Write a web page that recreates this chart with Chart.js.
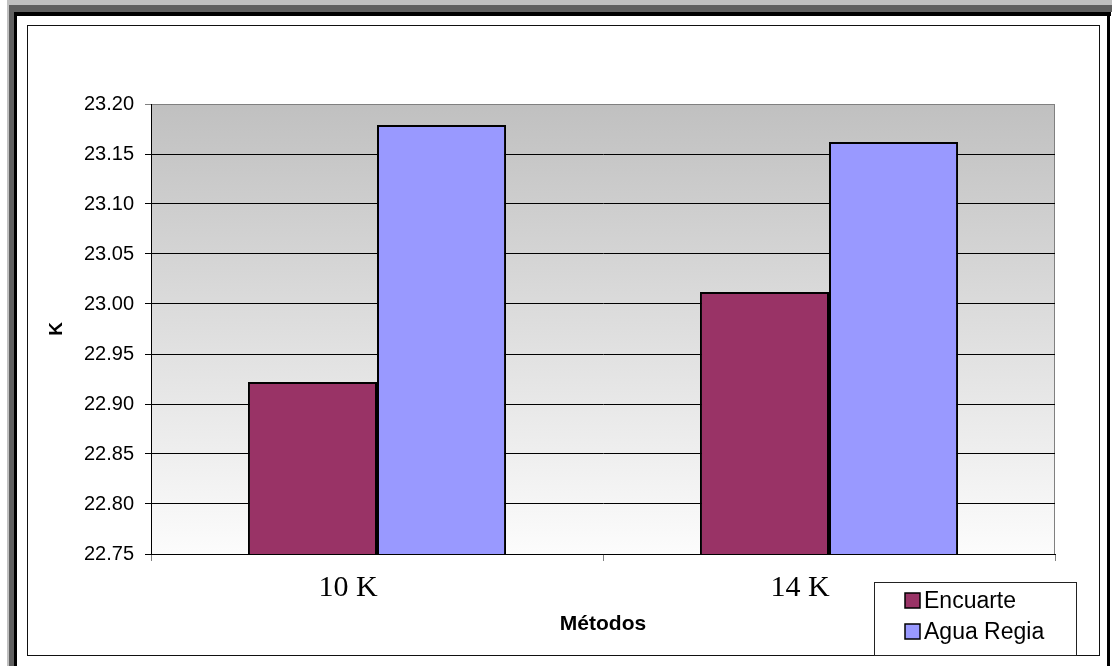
<!DOCTYPE html>
<html>
<head>
<meta charset="utf-8">
<script src="https://cdn.jsdelivr.net/npm/chart.js@4"></script>
<style>
  html, body { margin: 0; padding: 0; background: #ffffff; }
  body { width: 1112px; height: 666px; position: relative; overflow: hidden; }
  .f { position: absolute; }
  #chartWrap { position: absolute; left: 0; top: 0; width: 1112px; height: 666px; }
</style>
</head>
<body>
<!-- window frame -->
<div class="f" style="left:7px;top:0;width:1105px;height:5px;background:#c0c0c0"></div>
<div class="f" style="left:7px;top:0;width:2px;height:666px;background:#c0c0c0"></div>
<div class="f" style="left:9px;top:5px;width:1103px;height:7px;background:#606060"></div>
<div class="f" style="left:9px;top:5px;width:5px;height:661px;background:#606060"></div>
<div class="f" style="left:14px;top:12px;width:1097px;height:4px;background:#000"></div>
<div class="f" style="left:14px;top:12px;width:3px;height:654px;background:#000"></div>
<div class="f" style="left:1107px;top:12px;width:3px;height:654px;background:#000"></div>
<div class="f" style="left:27px;top:25px;width:1071px;height:629px;border:1px solid #111"></div>
<div id="chartWrap"><canvas id="c" width="1112" height="666"></canvas></div>
<script>
// Categories and series
const categories = ['10 K', '14 K'];
const seriesNames = ['Encuarte', 'Agua Regia'];
const encuarte = [22.922, 23.012];
const aguaRegia = [23.179, 23.162];
const seriesColors = ['#993366', '#9999FF'];

// Value axis
const yMin = 22.75;
const yMax = 23.20;
const yStep = 0.05;

const SANS = '"Liberation Sans", Arial, sans-serif';
const SERIF = '"Liberation Serif", "Times New Roman", serif';

// Shaded plot background with a grey outline
const plotBackground = {
  id: 'plotBackground',
  beforeDraw(chart) {
    const { ctx, chartArea: a } = chart;
    const g = ctx.createLinearGradient(0, a.top, 0, a.bottom);
    g.addColorStop(0, '#c0c0c0');
    g.addColorStop(1, '#fcfcfc');
    ctx.save();
    ctx.fillStyle = g;
    ctx.fillRect(a.left, a.top, a.right - a.left, a.bottom - a.top);
    ctx.strokeStyle = '#808080';
    ctx.lineWidth = 1;
    ctx.strokeRect(a.left + 0.5, a.top + 0.5, a.right - a.left - 1, a.bottom - a.top);
    ctx.restore();
  }
};

// Boxed legend in the lower right corner
const boxLegend = {
  id: 'boxLegend',
  afterDraw(chart) {
    const { ctx } = chart;
    const x0 = 874, y0 = 582, w = 202, h = 73;
    ctx.save();
    ctx.fillStyle = '#ffffff';
    ctx.fillRect(x0, y0, w, h);
    ctx.strokeStyle = '#222';
    ctx.lineWidth = 1;
    ctx.strokeRect(x0 + 0.5, y0 + 0.5, w, h);
    ctx.font = '23px ' + SANS;
    ctx.textBaseline = 'middle';
    ctx.textAlign = 'left';
    chart.data.datasets.forEach((ds, i) => {
      const cy = 601 + i * 31;
      ctx.fillStyle = ds.backgroundColor;
      ctx.fillRect(905, cy - 8, 15, 15);
      ctx.strokeStyle = '#000';
      ctx.lineWidth = 1.5;
      ctx.strokeRect(905, cy - 8, 15, 15);
      ctx.fillStyle = '#000';
      ctx.fillText(ds.label, 924, cy + 1);
    });
    ctx.restore();
  }
};

new Chart(document.getElementById('c'), {
  type: 'bar',
  data: {
    labels: categories,
    datasets: [
      { label: seriesNames[0], data: encuarte, backgroundColor: seriesColors[0] },
      { label: seriesNames[1], data: aguaRegia, backgroundColor: seriesColors[1] }
    ]
  },
  options: {
    responsive: false,
    animation: false,
    devicePixelRatio: 1,
    layout: { padding: { left: 41, top: 104, right: 57, bottom: 25 } },
    datasets: {
      bar: {
        barPercentage: 1.0,
        categoryPercentage: 0.571,
        borderColor: '#000',
        borderWidth: 2,
        borderSkipped: false
      }
    },
    plugins: {
      legend: { display: false },
      tooltip: { enabled: false }
    },
    scales: {
      x: {
        afterFit(scale) { scale.height = 87; },
        grid: {
          drawOnChartArea: false,
          drawTicks: true,
          tickLength: 7,
          color: '#808080'
        },
        border: { display: true, color: '#000', width: 1 },
        ticks: {
          color: '#000',
          font: { family: SERIF, size: 30 },
          padding: 9,
          labelOffset: -29
        },
        title: {
          display: true,
          text: 'Métodos',
          color: '#000',
          font: { family: SANS, size: 21, weight: 'bold' },
          padding: { top: 4, bottom: 4 }
        }
      },
      y: {
        min: yMin,
        max: yMax,
        afterFit(scale) { scale.width = 110; },
        grid: {
          color(ctx) {
            return ctx.tick && Math.abs(ctx.tick.value - yMax) < 1e-6 ? '#808080' : '#000';
          },
          lineWidth: 1,
          tickLength: 6,
          drawTicks: true
        },
        border: { display: true, color: '#000', width: 1 },
        ticks: {
          stepSize: yStep,
          color: '#000',
          font: { family: SANS, size: 20 },
          padding: 11,
          callback: (v) => Number(v).toFixed(2)
        },
        title: {
          display: true,
          text: 'K',
          color: '#000',
          font: { family: SANS, size: 19, weight: 'bold' },
          padding: { top: 4, bottom: 4 }
        }
      }
    }
  },
  plugins: [plotBackground, boxLegend]
});
</script>
</body>
</html>
